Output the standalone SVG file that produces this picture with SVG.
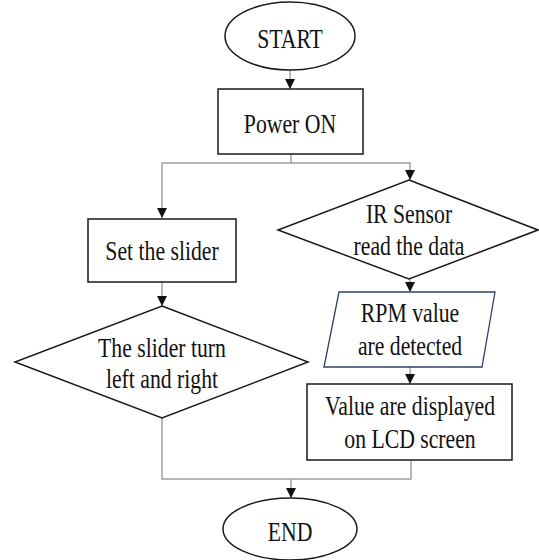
<svg xmlns="http://www.w3.org/2000/svg" width="539" height="560" viewBox="0 0 539 560">
<style>
.s{fill:#fff;stroke:#1a1a1a;stroke-width:1.5}
.p{fill:#fff;stroke:#2f4070;stroke-width:1.3}
.c{fill:none;stroke:#a0a0a0;stroke-width:1.5}
text{font-family:"Liberation Serif","Times New Roman",serif;font-size:27.5px;fill:#111;text-anchor:middle}
</style>
<defs>
<marker id="ah" markerWidth="10" markerHeight="10" refX="8" refY="4" orient="auto" markerUnits="userSpaceOnUse" viewBox="0 0 8 8">
<path d="M0,0 L8,4 L0,8 Z" fill="#111"/>
</marker>
</defs>
<g id="connectors">
<path class="c" d="M290,70 V89" marker-end="url(#ah)"/>
<path class="c" d="M291,154 V163 H162 V218" marker-end="url(#ah)"/>
<path class="c" d="M291,163 H410 V180" marker-end="url(#ah)"/>
<path class="c" d="M162,282 V306" marker-end="url(#ah)"/>
<path class="c" d="M410,279 V292" marker-end="url(#ah)"/>
<path class="c" d="M410,367 V384" marker-end="url(#ah)"/>
<path class="c" d="M162,418 V479 H411 V460"/>
<path class="c" d="M291,479 V498" marker-end="url(#ah)"/>
</g>
<g id="start">
<ellipse class="s" cx="290" cy="36" rx="65" ry="34"/>
<text transform="translate(290,48) scale(0.79,1)">START</text>
</g>
<g id="power">
<rect class="s" x="218" y="89" width="145" height="65"/>
<text transform="translate(290,133) scale(0.79,1)">Power ON</text>
</g>
<g id="setslider">
<rect class="s" x="88" y="219" width="148" height="63"/>
<text transform="translate(162,260) scale(0.79,1)">Set the slider</text>
</g>
<g id="turn">
<polygon class="s" points="162,306 308,362 162,418 15,362"/>
<text transform="translate(162,357) scale(0.79,1)">The slider turn</text>
<text transform="translate(162,388) scale(0.79,1)">left and right</text>
</g>
<g id="irsensor">
<polygon class="s" points="409,180 538,230 409,279 278,230"/>
<text transform="translate(409,223) scale(0.79,1)">IR Sensor</text>
<text transform="translate(409,255) scale(0.79,1)">read the data</text>
</g>
<g id="rpm">
<polygon class="p" points="339,292 495,292 482,367 324,367"/>
<text transform="translate(410,322) scale(0.79,1)">RPM value</text>
<text transform="translate(410,355) scale(0.79,1)">are detected</text>
</g>
<g id="lcd">
<rect class="s" x="307" y="384" width="205" height="76"/>
<text transform="translate(410,415) scale(0.79,1)">Value are displayed</text>
<text transform="translate(410,448) scale(0.79,1)">on LCD screen</text>
</g>
<g id="end">
<ellipse class="s" cx="290" cy="529" rx="67" ry="31"/>
<text transform="translate(290,541) scale(0.79,1)">END</text>
</g>
</svg>
